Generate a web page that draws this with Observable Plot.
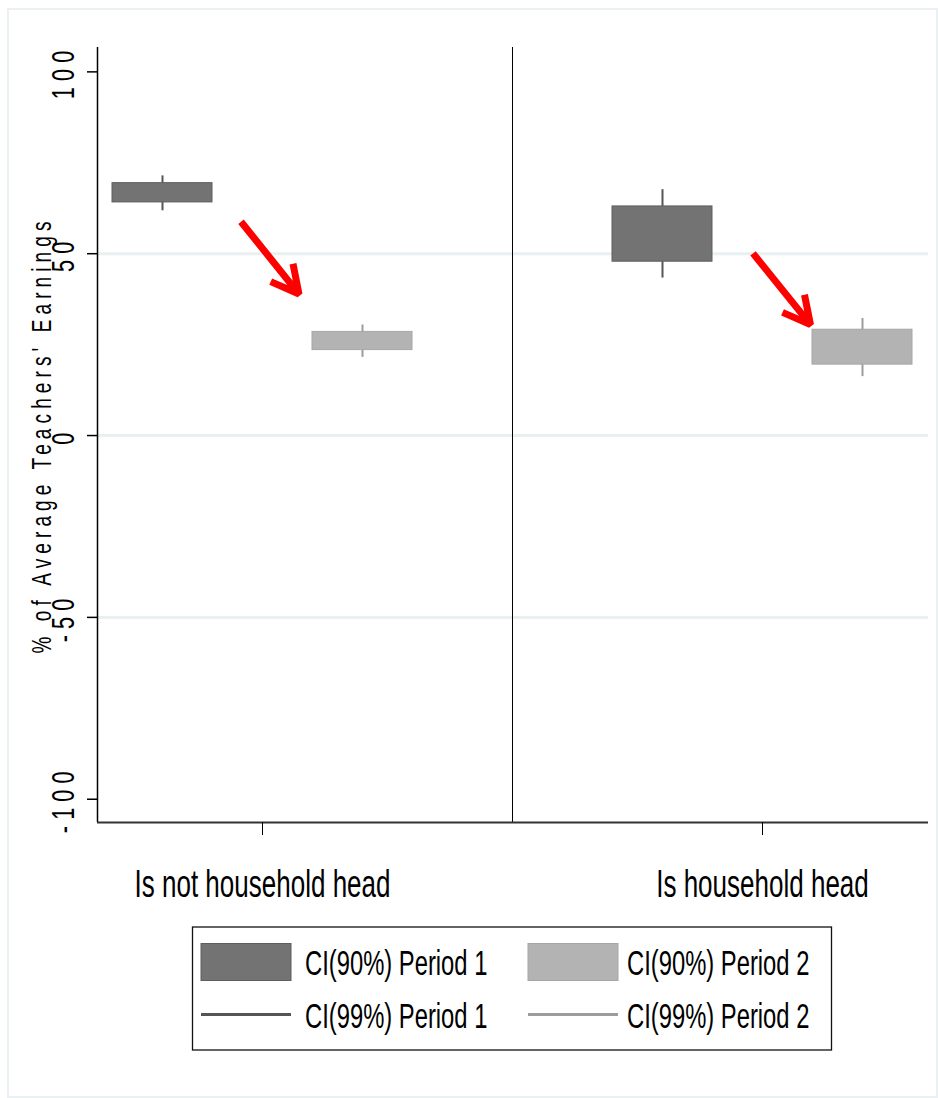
<!DOCTYPE html>
<html>
<head>
<meta charset="utf-8">
<script src="https://cdn.jsdelivr.net/npm/d3@7"></script>
<script src="https://cdn.jsdelivr.net/npm/@observablehq/plot@0.6"></script>
<style>
  body { margin: 0; background: #fff; }
  #wrap { position: relative; width: 938px; height: 1098px; overflow: hidden; background: #fff; }
  #border { position: absolute; left: 7px; top: 8px; width: 931px; height: 1090px; border: 2px solid #ebf1f2; box-sizing: border-box; pointer-events: none; }
  #chart { position: absolute; left: 0; top: 0; }
  #legend { position: absolute; left: 0; top: 910px; }
</style>
</head>
<body>
<div id="wrap">
  <div id="border"></div>
  <div id="chart"></div>
  <div id="legend"></div>
</div>
<script>
// ---------- data ----------
const categories = ["Is not household head", "Is household head"];
const periods = ["Period 1", "Period 2"];
// Period 1 confidence intervals
const p1Lo90 = [64.1, 47.8];
const p1Hi90 = [69.4, 63.0];
const p1Lo99 = [61.8, 43.3];
const p1Hi99 = [71.4, 67.6];
// Period 2 confidence intervals
const p2Lo90 = [23.5, 19.5];
const p2Hi90 = [28.5, 29.1];
const p2Lo99 = [21.5, 16.2];
const p2Hi99 = [30.4, 32.2];
// y axis
const yTicks = [100, 50, 0, -50, -100];
const yTickLabels = ["100", "50", "0", "-50", "-100"];
const gridValues = [50, 0, -50];
const yTitle = "% of Average Teachers' Earnings";
// red annotation arrows (data coordinates)
const arrowX1 = [0.957, 1.981];
const arrowY1 = [58.8, 50.1];
const arrowX2 = [1.073, 2.096];
const arrowY2 = [38.9, 30.5];
// legend
const legendLabels90 = ["CI(90%) Period 1", "CI(90%) Period 2"];
const legendLabels99 = ["CI(99%) Period 1", "CI(99%) Period 2"];

// ---------- styles ----------
const FONT = '"Liberation Sans", Arial, Helvetica, sans-serif';
const SX = 0.68; // horizontal compression of the Stata-like text
const boxFill = ["#737373", "#b3b3b3"];
const boxStroke = ["#5e5e5e", "#a6a6a6"];
const whiskerColor = ["#555555", "#9c9c9c"];
const offsets = [-0.2, 0.2];
const halfWidth = 0.1;

const rows = [];
categories.forEach((c, i) => {
  rows.push({cat: i + 1, period: 0, lo90: p1Lo90[i], hi90: p1Hi90[i], lo99: p1Lo99[i], hi99: p1Hi99[i]});
  rows.push({cat: i + 1, period: 1, lo90: p2Lo90[i], hi90: p2Hi90[i], lo99: p2Lo99[i], hi99: p2Hi99[i]});
});
const arrows = arrowX1.map((d, i) => ({x1: arrowX1[i], y1: arrowY1[i], x2: arrowX2[i], y2: arrowY2[i]}));

const xDomain = [0.67, 2.332];
const yDomain = [-106.4, 106.7];

const plot = Plot.plot({
  width: 938,
  height: 910,
  marginLeft: 97,
  marginRight: 10,
  marginTop: 47,
  marginBottom: 88,
  x: {domain: xDomain, axis: null},
  y: {domain: yDomain, axis: null},
  color: {type: "identity"},
  style: {fontFamily: FONT, background: "transparent", overflow: "visible", color: "#000"},
  marks: [
    Plot.ruleY(gridValues, {y: d => d, stroke: "#e9f0f1", strokeWidth: 3}),
    Plot.ruleX([1.5], {stroke: "#000", strokeWidth: 1}),
    Plot.ruleX([xDomain[0]], {stroke: "#000", strokeWidth: 1.5}),
    Plot.ruleY([yDomain[0]], {stroke: "#333", strokeWidth: 2}),
    Plot.axisY(yTicks, {anchor: "left", tickSize: 10, tickFormat: () => "", stroke: "#000", strokeWidth: 1.5, label: null}),
    Plot.axisX([1, 2], {anchor: "bottom", tickSize: 13, tickFormat: () => "", stroke: "#000", strokeWidth: 1, label: null}),
    Plot.ruleX(rows, {x: d => d.cat + offsets[d.period], y1: "lo99", y2: "hi99", stroke: d => whiskerColor[d.period], strokeWidth: 2}),
    Plot.rect(rows, {
      x1: d => d.cat + offsets[d.period] - halfWidth,
      x2: d => d.cat + offsets[d.period] + halfWidth,
      y1: "lo90", y2: "hi90",
      fill: d => boxFill[d.period], stroke: d => boxStroke[d.period], strokeWidth: 1
    }),
    Plot.arrow(arrows, {x1: "x1", y1: "y1", x2: "x2", y2: "y2", stroke: "#ff0000", strokeWidth: 7, headLength: 7, headAngle: 55, strokeLinejoin: "miter", strokeLinecap: "butt"}),
    Plot.text(yTicks, {y: d => d, text: (d, i) => yTickLabels[i], frameAnchor: "left", dx: -24, rotate: -90, textAnchor: "middle", lineAnchor: "bottom", fontSize: 32, fill: "#000"}),
    Plot.text([yTitle], {text: d => d, frameAnchor: "left", dx: -47, rotate: -90, textAnchor: "middle", lineAnchor: "bottom", fontSize: 28, fill: "#000"}),
    Plot.text(categories, {x: (d, i) => i + 1, text: d => d, frameAnchor: "bottom", dy: 74.7, textAnchor: "middle", lineAnchor: "bottom", fontSize: 38, fill: "#000"})
  ]
});

document.getElementById("chart").appendChild(plot);

// compress Stata-like text horizontally and add letter spacing; keep the baseline on the anchor
plot.querySelectorAll("text").forEach(t => {
  const s = t.textContent;
  let spacing = null;
  let sx = SX;
  if (yTickLabels.includes(s)) spacing = 9;
  else if (s === yTitle) spacing = 7.5;
  else if (categories.includes(s)) { spacing = 0; sx = 0.685; }
  if (spacing === null) return;
  t.removeAttribute("y");
  t.removeAttribute("dy");
  t.style.letterSpacing = spacing + "px";
  t.setAttribute("transform", (t.getAttribute("transform") || "") + ` scale(${sx},1)`);
});

// ---------- legend ----------
const lg = d3.select("#legend").append("svg")
  .attr("width", 938).attr("height", 188)
  .style("font-family", FONT);
lg.append("rect").attr("x", 192.5).attr("y", 17).attr("width", 639).attr("height", 123)
  .attr("fill", "#fff").attr("stroke", "#111").attr("stroke-width", 1.3);
const colX = [201, 528];
const textX = [305, 627];
periods.forEach((p, j) => {
  lg.append("rect").attr("x", colX[j]).attr("y", 33.5).attr("width", 90).attr("height", 37)
    .attr("fill", boxFill[j]).attr("stroke", boxStroke[j]).attr("stroke-width", 1);
  lg.append("line").attr("x1", colX[j]).attr("x2", colX[j] + 90).attr("y1", 104.5).attr("y2", 104.5)
    .attr("stroke", whiskerColor[j]).attr("stroke-width", 3);
  lg.append("text").attr("transform", `translate(${textX[j]},65) scale(${SX},1)`)
    .attr("font-size", 35).attr("fill", "#000").text(legendLabels90[j]);
  lg.append("text").attr("transform", `translate(${textX[j]},118.3) scale(${SX},1)`)
    .attr("font-size", 35).attr("fill", "#000").text(legendLabels99[j]);
});
</script>
</body>
</html>
